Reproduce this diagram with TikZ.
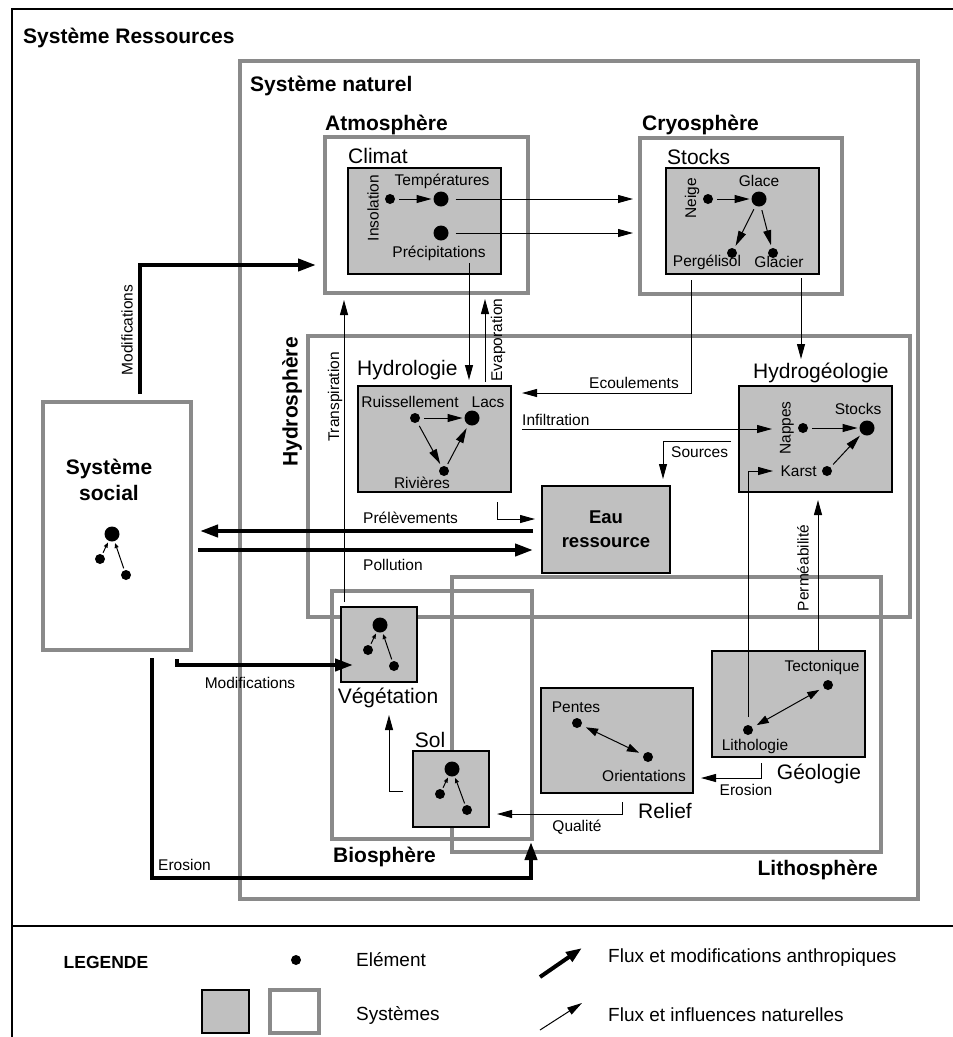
\documentclass[tikz,border=0pt]{standalone}
\usepackage{fontspec}
\setmainfont{Liberation Sans}
\usetikzlibrary{arrows.meta}
\definecolor{framegray}{RGB}{138,138,138}
\definecolor{boxfill}{RGB}{192,192,192}

% rectangle node given by its two corners: name, style, x1, y1, x2, y2
\newcommand\areabox[6]{%
  \pgfmathsetmacro\areaw{#5-#3}\pgfmathsetmacro\areah{#6-#4}%
  \node[#2, anchor=north west, minimum width=\areaw pt, minimum height=\areah pt] (#1) at (#3,#4) {};}

\begin{document}
\begin{tikzpicture}[x=1pt,y=-1pt,
  frame/.style={draw=framegray, line width=3.5pt, inner sep=0, outer sep=0},
  sysbox/.style={draw=black, line width=1.1pt, fill=boxfill, inner sep=0, outer sep=0},
  flow/.style={line width=1pt, -{Triangle[length=15pt,width=8pt]}},
  twoway/.style={line width=1pt, {Triangle[length=12pt,width=8pt]}-{Triangle[length=12pt,width=8pt]}},
  minilink/.style={line width=1pt, -{Triangle[length=5pt,width=4pt]}},
  anthro/.style={line width=4pt, -{Triangle[length=18pt,width=12pt]}},
  eldot/.style={circle, fill=black, inner sep=0, outer sep=0, minimum size=10pt},
  bigdot/.style={circle, fill=black, inner sep=0, outer sep=0, minimum size=15pt},
  smalltxt/.style={font=\fontsize{15.5}{18}\selectfont, inner sep=0},
  sublbl/.style={font=\fontsize{21}{24}\selectfont, inner sep=0},
  bigtitle/.style={font=\bfseries\fontsize{21}{24}\selectfont, inner sep=0},
  legtxt/.style={font=\fontsize{19}{22}\selectfont, inner sep=0, anchor=west},
]
\useasboundingbox (0,0) rectangle (953,1037);

% outer frame and legend divider
\draw[line width=1.2pt] (12,1040) -- (12,9) -- (956,9);
\draw[line width=1.2pt] (12,926) -- (956,926);

% spheres and systems (grey frames)
\areabox{naturel}{frame}{240}{61}{918}{899}
\areabox{atmo}{frame}{325}{137}{528}{293}
\areabox{cryo}{frame}{640}{138}{842}{294}
\areabox{hydro}{frame}{308}{336}{910}{617}
\areabox{litho}{frame}{452}{577}{881}{852}
\areabox{bio}{frame}{332}{591}{532}{839}
\areabox{social}{frame}{43}{402}{191}{650}

% subsystems (grey boxes)
\areabox{climat}{sysbox}{348}{168}{501}{274}
\areabox{stocksC}{sysbox}{666}{168}{819}{274}
\areabox{hydrologie}{sysbox}{358}{386}{511}{492}
\areabox{hydrogeo}{sysbox}{739}{386}{892}{492}
\areabox{eau}{sysbox}{542}{486}{670}{573}
\areabox{vegetation}{sysbox}{341}{607}{417}{682}
\areabox{sol}{sysbox}{413}{751}{489}{827}
\areabox{relief}{sysbox}{541}{688}{693}{793}
\areabox{geologie}{sysbox}{712}{651}{865}{757}

% elements
\node[eldot]  (insol)   at (390,199) {};
\node[bigdot] (temp)    at (441,199) {};
\node[bigdot] (prec)    at (441,233) {};
\node[eldot]  (neige)   at (708,199) {};
\node[bigdot] (glace)   at (759,199) {};
\node[eldot]  (perg)    at (732,253) {};
\node[eldot]  (glacier) at (773,253) {};
\node[eldot]  (ruis)    at (415,418) {};
\node[bigdot] (lacs)    at (472,418) {};
\node[eldot]  (riv)     at (444,471) {};
\node[eldot]  (nappes)  at (803,428) {};
\node[bigdot] (stockH)  at (867,428) {};
\node[eldot]  (karst)   at (827,471) {};
\node[bigdot] (vegBig)  at (380,625) {};
\node[eldot]  (vegA)    at (368,650) {};
\node[eldot]  (vegB)    at (394,666) {};
\node[bigdot] (solBig)  at (452,769) {};
\node[eldot]  (solA)    at (440,794) {};
\node[eldot]  (solB)    at (467,810) {};
\node[bigdot] (socBig)  at (112,534) {};
\node[eldot]  (socA)    at (100,559) {};
\node[eldot]  (socB)    at (126,575) {};
\node[eldot]  (pentes)  at (577,723) {};
\node[eldot]  (orient)  at (648,757) {};
\node[eldot]  (tecto)   at (828,685) {};
\node[eldot]  (lithol)  at (748,730) {};

% links inside the subsystems
\draw[flow, shorten <=4pt, shorten >=2pt] (insol) -- (temp);
\draw[flow, shorten <=4pt, shorten >=2pt] (neige) -- (glace);
\draw[flow, shorten <=4pt, shorten >=3pt] (glace) -- (perg);
\draw[flow, shorten <=4pt, shorten >=3pt] (glace) -- (glacier);
\draw[flow, shorten <=4pt, shorten >=2pt] (ruis) -- (lacs);
\draw[flow, shorten <=4pt, shorten >=3pt] (ruis) -- (riv);
\draw[flow, shorten <=3pt, shorten >=4pt] (riv) -- (lacs);
\draw[flow, shorten <=4pt, shorten >=2pt] (nappes) -- (stockH);
\draw[flow, shorten <=4pt, shorten >=3pt] (karst) -- (stockH);
\draw[twoway, shorten <=5pt, shorten >=5pt] (pentes) -- (orient);
\draw[twoway, shorten <=5pt, shorten >=5pt] (lithol) -- (tecto);
\foreach \b/\p/\q in {vegBig/vegA/vegB, solBig/solA/solB, socBig/socA/socB}{
  \draw[minilink, shorten <=2pt, shorten >=2pt] (\p) -- (\b);
  \draw[minilink, shorten <=2pt, shorten >=2pt] (\q) -- (\b);
}

% natural flows between subsystems
\draw[flow, shorten <=7pt, shorten >=7pt] (temp) -- (temp -| cryo.west);
\draw[flow, shorten <=7pt, shorten >=7pt] (prec) -- (prec -| cryo.west);

\coordinate (precOut) at (469,263);
\draw[flow, shorten >=6pt] (precOut) -- (precOut |- hydrologie.north);
\coordinate (evapIn) at (485,382);
\draw[flow, shorten >=6pt] (evapIn) -- (evapIn |- atmo.south);
\coordinate (transpIn) at (344,602);
\draw[flow, shorten >=7pt] (transpIn) -- (transpIn |- atmo.south);

\coordinate (pergOut) at (691,280);
\coordinate (ecoTurn) at (691,393);
\draw[flow, shorten >=11pt] (pergOut) -- (ecoTurn) -- (ecoTurn -| hydrologie.east);
\coordinate (glacOut) at (801,278);
\draw[flow, shorten >=27pt] (glacOut) -- (glacOut |- hydrogeo.north);

\coordinate (infIn) at (522,429);
\coordinate (infEnd) at (772,429);
\draw[flow] (infIn) -- (infEnd);

\coordinate (srcOut) at (731,441);
\coordinate (srcTurn) at (663,441);
\draw[flow, shorten >=7pt] (srcOut) -- (srcTurn) -- (srcTurn |- eau.north);

\coordinate (hydOut) at (497,502);
\coordinate (hydTurn) at (497,519);
\draw[flow, shorten >=7pt] (hydOut) -- (hydTurn) -- (hydTurn -| eau.west);

\coordinate (lithOut) at (748,717);
\coordinate (lithTurn) at (748,471);
\coordinate (karstIn) at (773,471);
\draw[flow] (lithOut) -- (lithTurn) -- (karstIn);

\coordinate (permOut) at (818,651);
\draw[flow, shorten >=8pt] (permOut) -- (permOut |- hydrogeo.south);

\coordinate (qualOut) at (622,802);
\coordinate (qualTurn) at (622,814);
\draw[flow, shorten >=8pt] (qualOut) -- (qualTurn) -- (qualTurn -| sol.east);

\coordinate (eroOut) at (761,763);
\coordinate (eroTurn) at (761,778);
\draw[flow, shorten >=8pt] (eroOut) -- (eroTurn) -- (eroTurn -| relief.east);

\coordinate (solOut) at (403,791);
\coordinate (solTurn) at (389,791);
\coordinate (vegIn) at (389,715);
\draw[flow] (solOut) -- (solTurn) -- (vegIn);

% human flows
\coordinate (modOut) at (140,394);
\coordinate (modTurn) at (140,265);
\draw[anthro, shorten >=9pt] (modOut) -- (modTurn) -- (modTurn -| atmo.west);

\coordinate (prelOut) at (533,531);
\draw[anthro, shorten >=9pt] (prelOut) -- (prelOut -| social.east);
\coordinate (pollIn) at (533,550);
\draw[anthro] (social.east |- pollIn) ++(7,0) -- (pollIn);

\coordinate (vegModOut) at (177,659);
\coordinate (vegModTurn) at (177,665);
\coordinate (vegModIn) at (353,665);
\draw[anthro] (vegModOut) -- (vegModTurn) -- (vegModIn);

\coordinate (eroSocOut) at (152,658);
\coordinate (eroSocTurn) at (152,878);
\coordinate (eroSocCorner) at (531,878);
\draw[anthro, shorten >=3pt] (eroSocOut) -- (eroSocTurn) -- (eroSocCorner) -- (eroSocCorner |- bio.south);

% titles
\node[bigtitle, anchor=base west] (tRes)   at (23,43)  {Système Ressources};
\node[bigtitle, anchor=base west] (tNat)   at (250,91) {Système naturel};
\node[bigtitle, anchor=base west] (tAtmo)  at (325,130) {Atmosphère};
\node[bigtitle, anchor=base west] (tCryo)  at (642,130) {Cryosphère};
\node[bigtitle, rotate=90] (tHydro) at (292,402) {Hydrosphère};
\node[bigtitle, anchor=base west] (tBio)   at (333,862) {Biosphère};
\node[bigtitle, anchor=base east] (tLitho) at (878,875) {Lithosphère};
\node[bigtitle, align=center] (tSoc) at (109,480) {Système\\[2pt]social};
\node[font=\bfseries\fontsize{18.5}{24}\selectfont, align=center, inner sep=0] (tEau) at (eau.center) {Eau\\ressource};

% subsystem names
\node[sublbl, anchor=base west] (tClimat) at (348,163) {Climat};
\node[sublbl, anchor=base west] (tStocks) at (667,164) {Stocks};
\node[sublbl, anchor=base west] (tHydrol) at (357,375) {Hydrologie};
\node[sublbl, anchor=base west] (tHydrog) at (753,378) {Hydrogéologie};
\node[sublbl, anchor=base] (tVeg)    at (388,703) {Végétation};
\node[sublbl, anchor=base] (tSol)    at (430,747) {Sol};
\node[sublbl, anchor=base] (tRelief) at (665,818) {Relief};
\node[sublbl, anchor=base] (tGeo)    at (819,779) {Géologie};

% element names
\node[smalltxt, rotate=90] (lInsol) at (373,208) {Insolation};
\node[smalltxt] (lTemp)    at (442,181) {Températures};
\node[smalltxt] (lPrec)    at (439,253) {Précipitations};
\node[smalltxt, rotate=90] (lNeige) at (692,198) {Neige};
\node[smalltxt] (lGlace)   at (759,181) {Glace};
\node[smalltxt] (lPerg)    at (707,262) {Pergélisol};
\node[smalltxt] (lGlacier) at (779,262) {Glacier};
\node[smalltxt] (lRuis)    at (410,402) {Ruissellement};
\node[smalltxt] (lLacs)    at (488,402) {Lacs};
\node[smalltxt] (lRiv)     at (422,483) {Rivières};
\node[smalltxt, rotate=90] (lNappes) at (787,428) {Nappes};
\node[smalltxt] (lStocksH) at (858,409) {Stocks};
\node[smalltxt, anchor=east] (lKarst) at (817,471) {Karst};
\node[smalltxt] (lPentes)  at (576,707) {Pentes};
\node[smalltxt] (lOrient)  at (644,776) {Orientations};
\node[smalltxt] (lTecto)   at (822,667) {Tectonique};
\node[smalltxt] (lLithol)  at (755,746) {Lithologie};

% flow labels
\node[smalltxt, rotate=90] (fEvap)   at (498,340) {Evaporation};
\node[smalltxt, rotate=90] (fTransp) at (335,397) {Transpiration};
\node[smalltxt, anchor=east] (fEcoul) at (679,383) {Ecoulements};
\node[smalltxt, anchor=west] (fInfil) at (522,420) {Infiltration};
\node[smalltxt, anchor=west] (fSrc)   at (671,452) {Sources};
\node[smalltxt, anchor=west] (fPrel)  at (363,518) {Prélèvements};
\node[smalltxt, anchor=west] (fPoll)  at (363,565) {Pollution};
\node[smalltxt, rotate=90] (fPerm)   at (803,568) {Perméabilité};
\node[smalltxt, rotate=90] (fMod1)   at (127,330) {Modifications};
\node[smalltxt] (fMod2)    at (250,683) {Modifications};
\node[smalltxt, anchor=west] (fEroSoc) at (158,865) {Erosion};
\node[smalltxt] (fQual)    at (577,827) {Qualité};
\node[smalltxt] (fEroGeo)  at (746,790) {Erosion};

% legend
\node[font=\bfseries\fontsize{17.5}{20}\selectfont, inner sep=0] (legTitle) at (106,962) {LEGENDE};
\node[eldot] (legDot) at (296,960) {};
\node[legtxt] (legElem) at (356,960) {Elément};
\areabox{legSys}{sysbox}{202}{990}{249}{1033}
\areabox{legArea}{frame}{270}{990}{319}{1033}
\node[legtxt] (legSysTxt) at (356,1015) {Systèmes};
\coordinate (legA1) at (540,977);
\coordinate (legA2) at (582,948);
\draw[anthro, -{Triangle[length=16pt,width=11pt]}] (legA1) -- (legA2);
\coordinate (legN1) at (540,1030);
\coordinate (legN2) at (582,1003);
\draw[flow] (legN1) -- (legN2);
\node[legtxt] (legAnth) at (608,958) {Flux et modifications anthropiques};
\node[legtxt] (legNat)  at (608,1015) {Flux et influences naturelles};
\end{tikzpicture}
\end{document}
